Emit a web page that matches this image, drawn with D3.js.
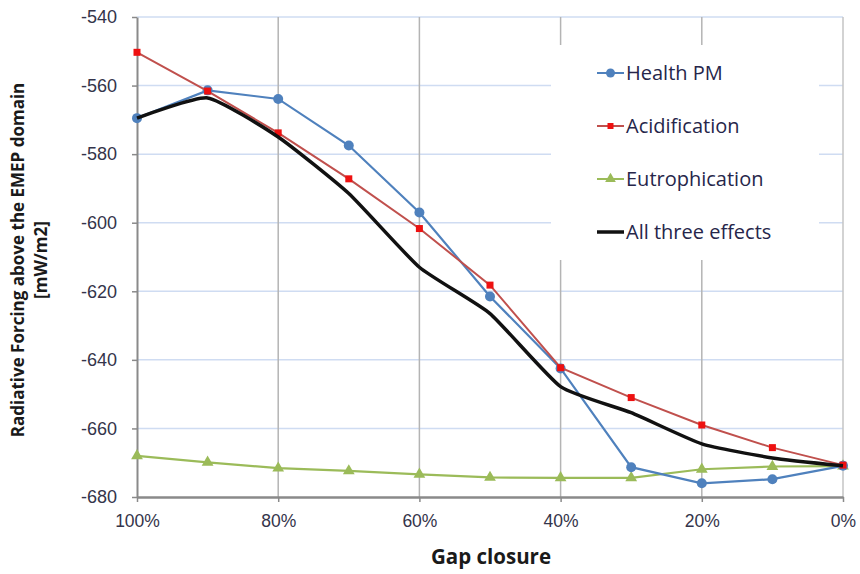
<!DOCTYPE html>
<html>
<head>
<meta charset="utf-8">
<script src="https://cdn.jsdelivr.net/npm/d3@7"></script>
<style>
  body { margin: 0; background: #fff; }
  svg { display: block; font-family: "Open Sans", Lato, "Liberation Sans", sans-serif; }
</style>
</head>
<body>
<svg id="chart" width="860" height="574"></svg>
<script>
// Gap closure steps (percent) and radiative forcing per effect, mW/m2
const gapClosure = [100, 90, 80, 70, 60, 50, 40, 30, 20, 10, 0];
const healthPM = [-569.5, -561.4, -563.9, -577.5, -597.0, -621.5, -642.5, -671.3, -676.0, -674.8, -670.9];
const acidification = [-550.3, -561.6, -573.8, -587.2, -601.7, -618.2, -642.3, -651.0, -659.0, -665.6, -670.7];
const eutrophication = [-668.0, -669.9, -671.6, -672.4, -673.4, -674.3, -674.4, -674.4, -671.9, -671.1, -671.0];
const allThree = [-569.5, -563.6, -575.0, -591.5, -613.0, -626.5, -647.8, -655.4, -664.5, -668.6, -670.9];
const yTicks = [-540, -560, -580, -600, -620, -640, -660, -680];
const xTicks = [100, 80, 60, 40, 20, 0];
const seriesNames = ["Health PM", "Acidification", "Eutrophication", "All three effects"];

const svg = d3.select("#chart");
const plotLeft = 137, plotRight = 843, plotTop = 17, plotBottom = 497;

const x = d3.scaleLinear().domain([100, 0]).range([plotLeft, plotRight]);
const y = d3.scaleLinear().domain([-540, -680]).range([plotTop, plotBottom]);

// horizontal gridlines
svg.append("g").selectAll("line").data(yTicks.slice(0, -1)).join("line")
  .attr("x1", plotLeft).attr("x2", plotRight)
  .attr("y1", d => y(d)).attr("y2", d => y(d))
  .attr("stroke", "#cfdcf2").attr("stroke-width", 1.5);

// vertical gridlines
svg.append("g").selectAll("line").data(xTicks.slice(1, -1)).join("line")
  .attr("x1", d => x(d)).attr("x2", d => x(d))
  .attr("y1", plotTop).attr("y2", plotBottom)
  .attr("stroke", "#b4b4b4").attr("stroke-width", 1.5);

// right border of plot area
svg.append("line").attr("x1", plotRight).attr("x2", plotRight).attr("y1", plotTop).attr("y2", plotBottom)
  .attr("stroke", "#c4c4c4").attr("stroke-width", 1.5);

// legend background covers the gridlines
svg.append("rect").attr("x", 551).attr("y", 45).attr("width", 268).attr("height", 215).attr("fill", "#fff");

// y axis (plain hyphen for the minus sign)
const yAxis = svg.append("g").attr("transform", `translate(${plotLeft},0)`)
  .call(d3.axisLeft(y).tickValues(yTicks).tickFormat(d => String(d)).tickSize(5).tickPadding(15).tickSizeOuter(0));
yAxis.select(".domain").attr("stroke", "#8a8a8a").attr("stroke-width", 2);
yAxis.selectAll(".tick line").attr("stroke", "#8a8a8a").attr("stroke-width", 1.5);
yAxis.selectAll("text").attr("font-size", 18).attr("fill", "#34344a");

// x axis
const xAxis = svg.append("g").attr("transform", `translate(0,${plotBottom})`)
  .call(d3.axisBottom(x).tickValues(xTicks).tickFormat(d => d + "%").tickSize(5).tickPadding(13).tickSizeOuter(0));
xAxis.select(".domain").attr("stroke", "#8a8a8a").attr("stroke-width", 2.5);
xAxis.selectAll(".tick line").attr("stroke", "#8a8a8a").attr("stroke-width", 1.5);
xAxis.selectAll("text").attr("font-size", 17.5).attr("fill", "#34344a");

// axis titles
svg.append("text").attr("x", 491).attr("y", 564).attr("text-anchor", "middle")
  .attr("font-size", 20.5).attr("font-weight", "bold").attr("fill", "#1a1a1a").text("Gap closure");
const yTitle = svg.append("g").attr("transform", "translate(0,260) rotate(-90)");
yTitle.append("text").attr("x", 0).attr("y", 24).attr("text-anchor", "middle")
  .attr("font-size", 17).attr("font-weight", "bold").attr("fill", "#1a1a1a")
  .text("Radiative Forcing above the EMEP domain");
yTitle.append("text").attr("x", 0).attr("y", 47).attr("text-anchor", "middle")
  .attr("font-size", 17).attr("font-weight", "bold").attr("fill", "#1a1a1a")
  .text("[mW/m2]");

const pts = vals => gapClosure.map((g, i) => [g, vals[i]]);
const straight = d3.line().x(d => x(d[0])).y(d => y(d[1]));
const smooth = d3.line().x(d => x(d[0])).y(d => y(d[1])).curve(d3.curveCardinal.tension(0.5));

const plot = svg.append("g");

// Eutrophication
plot.append("path").datum(pts(eutrophication)).attr("d", straight)
  .attr("fill", "none").attr("stroke", "#9bbb59").attr("stroke-width", 2.2);
const tri = d3.symbol().type(d3.symbolTriangle).size(60);
plot.append("g").selectAll("path").data(pts(eutrophication)).join("path")
  .attr("d", tri).attr("transform", d => `translate(${x(d[0])},${y(d[1])})`).attr("fill", "#9bbb59");

// Health PM
plot.append("path").datum(pts(healthPM)).attr("d", straight)
  .attr("fill", "none").attr("stroke", "#4f81bd").attr("stroke-width", 2.2);
plot.append("g").selectAll("circle").data(pts(healthPM)).join("circle")
  .attr("cx", d => x(d[0])).attr("cy", d => y(d[1])).attr("r", 5).attr("fill", "#4f81bd");

// Acidification
plot.append("path").datum(pts(acidification)).attr("d", straight)
  .attr("fill", "none").attr("stroke", "#c0504d").attr("stroke-width", 2);
plot.append("g").selectAll("rect").data(pts(acidification)).join("rect")
  .attr("x", d => x(d[0]) - 3.5).attr("y", d => y(d[1]) - 3.5)
  .attr("width", 7).attr("height", 7).attr("fill", "#ee1111");

// All three effects (smoothed)
plot.append("path").datum(pts(allThree)).attr("d", smooth)
  .attr("fill", "none").attr("stroke", "#111111").attr("stroke-width", 3.5);

// legend
const legendY = [73, 126, 179, 232];
const legendColors = ["#4f81bd", "#c0504d", "#9bbb59", "#111111"];
const legend = svg.append("g");
seriesNames.forEach((name, i) => {
  const g = legend.append("g").attr("transform", `translate(597,${legendY[i]})`);
  g.append("line").attr("x1", 0).attr("x2", 27).attr("y1", 0).attr("y2", 0)
    .attr("stroke", legendColors[i]).attr("stroke-width", i === 3 ? 3.5 : 2);
  if (i === 0) g.append("circle").attr("cx", 13.5).attr("cy", 0).attr("r", 4.5).attr("fill", "#4f81bd");
  if (i === 1) g.append("rect").attr("x", 10.5).attr("y", -3).attr("width", 6).attr("height", 6).attr("fill", "#ee1111");
  if (i === 2) g.append("path").attr("d", d3.symbol().type(d3.symbolTriangle).size(50))
    .attr("transform", "translate(13.5,0)").attr("fill", "#9bbb59");
  g.append("text").attr("x", 29).attr("y", 0).attr("dy", "0.36em")
    .attr("font-size", 20).attr("fill", "#26264a").text(name);
});
</script>
</body>
</html>
